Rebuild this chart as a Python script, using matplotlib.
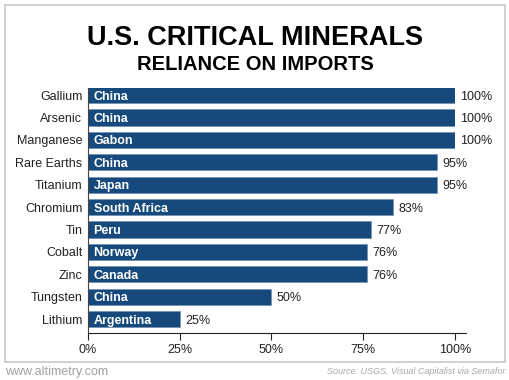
import matplotlib.pyplot as plt
from matplotlib.patches import Rectangle

minerals = ["Gallium", "Arsenic", "Manganese", "Rare Earths", "Titanium", "Chromium",
            "Tin", "Cobalt", "Zinc", "Tungsten", "Lithium"]
countries = ["China", "China", "Gabon", "China", "Japan", "South Africa",
             "Peru", "Norway", "Canada", "China", "Argentina"]
reliance = [100, 100, 100, 95, 95, 83, 77, 76, 76, 50, 25]
ticks = [0, 25, 50, 75, 100]

plt.rcParams["font.family"] = ["Liberation Sans", "DejaVu Sans"]
bar_color = "#174a7c"

fig = plt.figure(figsize=(5.1, 3.8), dpi=100)
fig.patches.append(Rectangle((5 / 510, 18 / 380), 500 / 510, 357 / 380, transform=fig.transFigure,
                             fill=False, edgecolor="#c8c8c8", linewidth=1.2))

ax = fig.add_axes([88 / 510, 47 / 380, 367 / 510, 245 / 380])
y = list(range(len(minerals)))
ax.barh(y, reliance, height=0.72, color=bar_color, edgecolor="#6f8fb3", linewidth=0.5)
for i in y:
    ax.text(1.5, i, countries[i], color="white", fontsize=9, fontweight="bold",
            va="center_baseline", ha="left")
    ax.text(reliance[i] + 1.5, i, f"{reliance[i]}%", color="#222222", fontsize=9,
            va="center_baseline", ha="left")

ax.set_ylim(len(minerals) - 1 + 0.62, -0.32)
ax.set_xlim(0, 100)
ax.set_yticks(y)
ax.set_yticklabels(minerals, fontsize=9, color="#222222")
ax.set_xticks(ticks)
ax.set_xticklabels([f"{t}%" for t in ticks], fontsize=9, color="#222222")
ax.tick_params(axis="y", length=0, pad=4)
ax.tick_params(axis="x", length=5, direction="out", color="#222222", pad=3)
for s in ["top", "right"]:
    ax.spines[s].set_visible(False)
ax.spines["left"].set_color("#444444")
ax.spines["bottom"].set_color("#222222")
ax.spines["bottom"].set_bounds(0, 103)
ax.spines["bottom"].set_clip_on(False)

fig.text(0.5, 1 - 45 / 380, "U.S. CRITICAL MINERALS", ha="center", va="baseline",
         fontsize=19.5, fontweight="bold")
fig.text(0.5, 1 - 70 / 380, "RELIANCE ON IMPORTS", ha="center", va="baseline",
         fontsize=14.5, fontweight="bold")
fig.text(5 / 510, 1 - 372 / 380, "www.altimetry.com", ha="left", va="center",
         fontsize=9, color="#a0a0a0")
fig.text(505 / 510, 1 - 372 / 380, "Source: USGS, Visual Capitalist via Semafor", ha="right",
         va="center", fontsize=6.5, color="#a8a8a8", style="italic")

fig.savefig("out.png", dpi=100)
